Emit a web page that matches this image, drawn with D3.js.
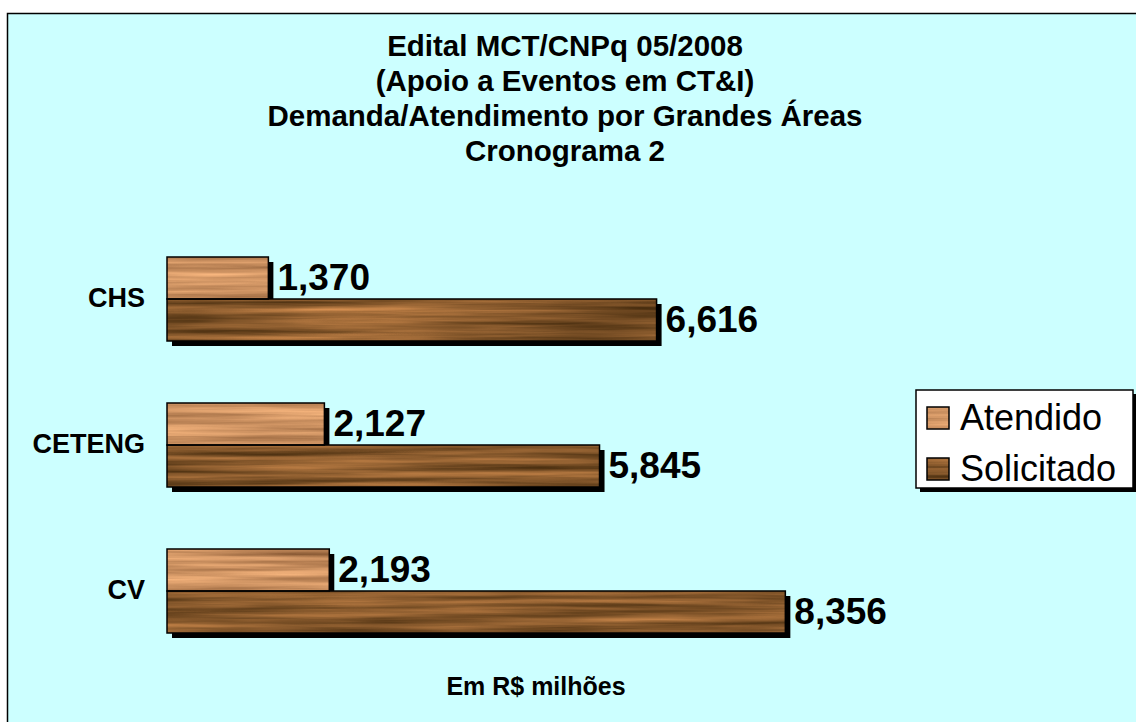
<!DOCTYPE html>
<html>
<head>
<meta charset="utf-8">
<script src="https://cdn.jsdelivr.net/npm/d3@7"></script>
<style>
  body { margin: 0; background: #ffffff; }
  svg { display: block; font-family: "Liberation Sans", Arial, sans-serif; }
</style>
</head>
<body>
<svg id="chart" width="1136" height="722"></svg>
<script>
// chart values (R$ milhões)
const categories = ["CHS", "CETENG", "CV"];
const seriesNames = ["Atendido", "Solicitado"];
const atendido = [1.370, 2.127, 2.193];
const solicitado = [6.616, 5.845, 8.356];
const titleLines = [
  "Edital MCT/CNPq 05/2008",
  "(Apoio a Eventos em CT&I)",
  "Demanda/Atendimento por Grandes Áreas",
  "Cronograma 2"
];
const unitLabel = "Em R$ milhões";

class WoodBarChart {

  constructor(_config) {
    this.config = {
      parentElement: _config.parentElement,
      xRange: [167, 907],
      yRange: [226, 664]
    }
    this.initVis();
  }

  initVis() {
    let vis = this;
    vis.svg = d3.select(vis.config.parentElement);

    // brazilian number format: 1,370
    vis.fmt = d3.formatLocale({decimal: ",", thousands: ".", grouping: [3], currency: ["R$", ""]}).format(".3f");

    // wood grain textures via turbulence filters
    let defs = vis.svg.append("defs");
    vis.makeWood(defs, "woodLight", 7, "0.6 0 0 0 0.5  0.5 0 0 0 0.32  0.4 0 0 0 0.18  0 0 0 0 1");
    vis.makeWood(defs, "woodDark", 11, "0.65 0 0 0 0.2  0.45 0 0 0 0.12  0.3 0 0 0 0.02  0 0 0 0 1");
    vis.woods = {Atendido: "woodLight", Solicitado: "woodDark"};

    // background panel (runs off the right and bottom edges)
    vis.svg.append("rect")
      .attr("x", 7.5).attr("y", 13.5)
      .attr("width", 1200).attr("height", 800)
      .attr("fill", "#ccffff")
      .attr("stroke", "#000").attr("stroke-width", 1.5);

    // title
    vis.svg.append("g").selectAll("text")
      .data(titleLines)
      .join("text")
        .attr("x", 565)
        .attr("y", (d, i) => 56 + i * 35)
        .attr("text-anchor", "middle")
        .attr("font-size", 29.5)
        .attr("font-weight", "bold")
        .text(d => d);

    vis.x = d3.scaleLinear().domain([0, 10]).range(vis.config.xRange);
    vis.y = d3.scaleBand().domain(categories).range(vis.config.yRange);
    vis.ySub = d3.scaleBand().domain(seriesNames).range([31, 115]);

    vis.data = [];
    categories.forEach((c, i) => {
      vis.data.push({cat: c, series: "Atendido", value: atendido[i]});
      vis.data.push({cat: c, series: "Solicitado", value: solicitado[i]});
    });

    vis.renderVis();
  }

  makeWood(defs, id, seed, matrix) {
    let f = defs.append("filter").attr("id", id)
      .attr("x", 0).attr("y", 0).attr("width", 1).attr("height", 1)
      .attr("color-interpolation-filters", "sRGB");
    f.append("feTurbulence")
      .attr("type", "fractalNoise")
      .attr("baseFrequency", "0.004 0.14")
      .attr("numOctaves", 4)
      .attr("seed", seed)
      .attr("result", "noise");
    f.append("feColorMatrix")
      .attr("in", "noise")
      .attr("type", "matrix")
      .attr("values", matrix)
      .attr("result", "wood");
    f.append("feComposite")
      .attr("in", "wood")
      .attr("in2", "SourceGraphic")
      .attr("operator", "in");
  }

  renderVis() {
    let vis = this;
    let x0 = vis.x(0);
    let h = vis.ySub.bandwidth();
    let top = d => vis.y(d.cat) + vis.ySub(d.series);

    let bars = vis.svg.append("g");

    // drop shadows first
    bars.selectAll(".shadow")
      .data(vis.data)
      .join("rect")
        .attr("class", "shadow")
        .attr("x", x0 + 5)
        .attr("y", d => top(d) + 5)
        .attr("width", d => vis.x(d.value) - x0)
        .attr("height", h)
        .attr("fill", "#000");

    bars.selectAll(".wood")
      .data(vis.data)
      .join("rect")
        .attr("class", "wood")
        .attr("x", x0)
        .attr("y", top)
        .attr("width", d => vis.x(d.value) - x0)
        .attr("height", h)
        .attr("fill", "#fff")
        .attr("filter", d => `url(#${vis.woods[d.series]})`);

    bars.selectAll(".edge")
      .data(vis.data)
      .join("rect")
        .attr("class", "edge")
        .attr("x", x0)
        .attr("y", top)
        .attr("width", d => vis.x(d.value) - x0)
        .attr("height", h)
        .attr("fill", "none")
        .attr("stroke", "#000")
        .attr("stroke-width", 1.5);

    // value labels
    bars.selectAll(".val")
      .data(vis.data)
      .join("text")
        .attr("class", "val")
        .attr("x", d => vis.x(d.value) + 9)
        .attr("y", d => top(d) + h / 2 + 12)
        .attr("font-size", 37)
        .attr("font-weight", "bold")
        .text(d => vis.fmt(d.value));

    // category labels
    vis.svg.append("g").selectAll("text")
      .data(categories)
      .join("text")
        .attr("x", 145)
        .attr("y", d => vis.y(d) + vis.y.bandwidth() / 2 + 8)
        .attr("text-anchor", "end")
        .attr("font-size", 27)
        .attr("font-weight", "bold")
        .text(d => d);

    // unit note
    vis.svg.append("text")
      .attr("x", 536).attr("y", 695)
      .attr("text-anchor", "middle")
      .attr("font-size", 25)
      .attr("font-weight", "bold")
      .text(unitLabel);

    // legend
    let lg = vis.svg.append("g").attr("transform", "translate(916,390)");
    lg.append("rect").attr("x", 4).attr("y", 4).attr("width", 217).attr("height", 98).attr("fill", "#000");
    lg.append("rect").attr("width", 217).attr("height", 98)
      .attr("fill", "#fff").attr("stroke", "#000").attr("stroke-width", 1.5);

    let items = lg.selectAll(".item")
      .data(seriesNames)
      .join("g")
        .attr("class", "item")
        .attr("transform", (d, i) => `translate(11,${17 + i * 51})`);
    items.append("rect")
      .attr("width", 22).attr("height", 22)
      .attr("fill", "#fff")
      .attr("filter", d => `url(#${vis.woods[d]})`);
    items.append("rect")
      .attr("width", 22).attr("height", 22)
      .attr("fill", "none").attr("stroke", "#000").attr("stroke-width", 1.5);
    items.append("text")
      .attr("x", 33).attr("y", 23)
      .attr("font-size", 36)
      .text(d => d);
  }
}

new WoodBarChart({parentElement: "#chart"});
</script>
</body>
</html>
